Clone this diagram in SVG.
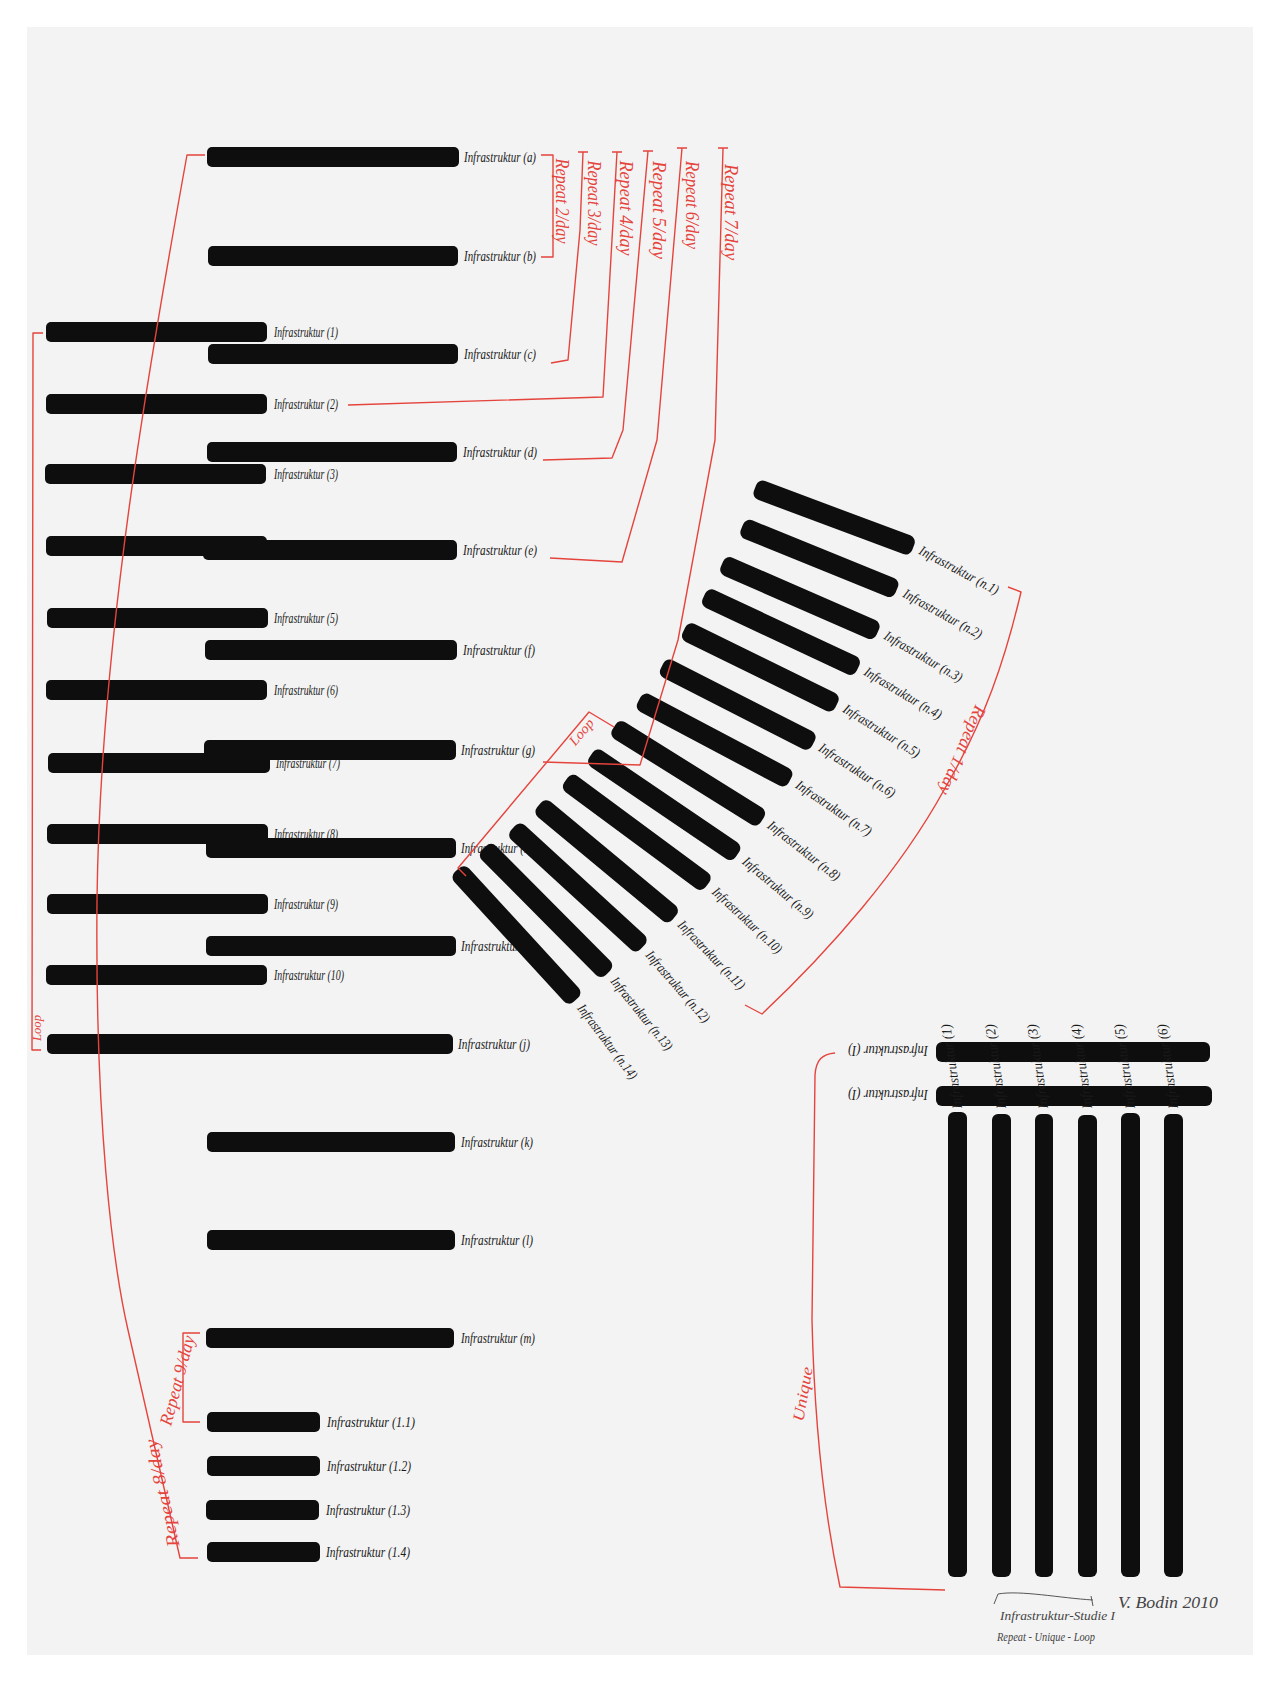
<svg xmlns="http://www.w3.org/2000/svg" width="1280" height="1682" viewBox="0 0 1280 1682">
<style>
.bar{fill:#0e0e0e}
.lb{font-family:"Liberation Serif",serif;font-style:italic;font-size:14px;fill:#1a1a1a}
.rl{fill:none;stroke:#e5443d;stroke-width:1.4;stroke-linejoin:round}
.rt{font-family:"Liberation Serif",serif;font-style:italic;font-size:18px;fill:#e5443d}
.sg{font-family:"Liberation Serif",serif;font-style:italic;font-size:12px;fill:#444}
</style>
<rect x="0" y="0" width="1280" height="1682" fill="#ffffff"/>
<rect x="27" y="27" width="1226" height="1628" fill="#f3f3f3"/>

<g id="colA">
<rect class="bar" x="46" y="322" width="221" height="20" rx="5"/>
<rect class="bar" x="46" y="394" width="221" height="20" rx="5"/>
<rect class="bar" x="45" y="464" width="221" height="20" rx="5"/>
<rect class="bar" x="46" y="536" width="221" height="20" rx="5"/>
<rect class="bar" x="47" y="608" width="221" height="20" rx="5"/>
<rect class="bar" x="46" y="680" width="221" height="20" rx="5"/>
<rect class="bar" x="48" y="753" width="222" height="20" rx="5"/>
<rect class="bar" x="47" y="824" width="221" height="20" rx="5"/>
<rect class="bar" x="47" y="894" width="221" height="20" rx="5"/>
<rect class="bar" x="46" y="965" width="221" height="20" rx="5"/>
<rect class="bar" x="47" y="1034" width="220" height="20" rx="5"/>
</g>
<g id="colA-labels">
<text class="lb" x="274" y="337" textLength="64" lengthAdjust="spacingAndGlyphs">Infrastruktur (1)</text>
<text class="lb" x="274" y="409" textLength="64" lengthAdjust="spacingAndGlyphs">Infrastruktur (2)</text>
<text class="lb" x="274" y="479" textLength="64" lengthAdjust="spacingAndGlyphs">Infrastruktur (3)</text>
<text class="lb" x="274" y="551" textLength="64" lengthAdjust="spacingAndGlyphs">Infrastruktur (4)</text>
<text class="lb" x="274" y="623" textLength="64" lengthAdjust="spacingAndGlyphs">Infrastruktur (5)</text>
<text class="lb" x="274" y="695" textLength="64" lengthAdjust="spacingAndGlyphs">Infrastruktur (6)</text>
<text class="lb" x="276" y="768" textLength="64" lengthAdjust="spacingAndGlyphs">Infrastruktur (7)</text>
<text class="lb" x="274" y="839" textLength="64" lengthAdjust="spacingAndGlyphs">Infrastruktur (8)</text>
<text class="lb" x="274" y="909" textLength="64" lengthAdjust="spacingAndGlyphs">Infrastruktur (9)</text>
<text class="lb" x="274" y="980" textLength="70" lengthAdjust="spacingAndGlyphs">Infrastruktur (10)</text>
<text class="lb" x="270" y="1049" textLength="70" lengthAdjust="spacingAndGlyphs">Infrastruktur (11)</text>
</g>

<g id="colB">
<rect class="bar" x="207" y="147" width="252" height="20" rx="5"/>
<rect class="bar" x="208" y="246" width="250" height="20" rx="5"/>
<rect class="bar" x="208" y="344" width="250" height="20" rx="5"/>
<rect class="bar" x="207" y="442" width="250" height="20" rx="5"/>
<rect class="bar" x="203" y="540" width="254" height="20" rx="5"/>
<rect class="bar" x="205" y="640" width="252" height="20" rx="5"/>
<rect class="bar" x="204" y="740" width="252" height="20" rx="5"/>
<rect class="bar" x="206" y="838" width="250" height="20" rx="5"/>
<rect class="bar" x="206" y="936" width="250" height="20" rx="5"/>
<rect class="bar" x="207" y="1034" width="246" height="20" rx="5"/>
<rect class="bar" x="207" y="1132" width="248" height="20" rx="5"/>
<rect class="bar" x="207" y="1230" width="248" height="20" rx="5"/>
<rect class="bar" x="206" y="1328" width="248" height="20" rx="5"/>
</g>
<g id="colB-labels">
<text class="lb" x="464" y="162" textLength="72" lengthAdjust="spacingAndGlyphs">Infrastruktur (a)</text>
<text class="lb" x="464" y="261" textLength="72" lengthAdjust="spacingAndGlyphs">Infrastruktur (b)</text>
<text class="lb" x="464" y="359" textLength="72" lengthAdjust="spacingAndGlyphs">Infrastruktur (c)</text>
<text class="lb" x="463" y="457" textLength="74" lengthAdjust="spacingAndGlyphs">Infrastruktur (d)</text>
<text class="lb" x="463" y="555" textLength="74" lengthAdjust="spacingAndGlyphs">Infrastruktur (e)</text>
<text class="lb" x="463" y="655" textLength="72" lengthAdjust="spacingAndGlyphs">Infrastruktur (f)</text>
<text class="lb" x="461" y="755" textLength="74" lengthAdjust="spacingAndGlyphs">Infrastruktur (g)</text>
<text class="lb" x="461" y="853" textLength="72" lengthAdjust="spacingAndGlyphs">Infrastruktur (h)</text>
<text class="lb" x="461" y="951" textLength="72" lengthAdjust="spacingAndGlyphs">Infrastruktur (i)</text>
<text class="lb" x="458" y="1049" textLength="72" lengthAdjust="spacingAndGlyphs">Infrastruktur (j)</text>
<text class="lb" x="461" y="1147" textLength="72" lengthAdjust="spacingAndGlyphs">Infrastruktur (k)</text>
<text class="lb" x="461" y="1245" textLength="72" lengthAdjust="spacingAndGlyphs">Infrastruktur (l)</text>
<text class="lb" x="461" y="1343" textLength="74" lengthAdjust="spacingAndGlyphs">Infrastruktur (m)</text>
</g>

<g id="short-bars">
<rect class="bar" x="207" y="1412" width="113" height="20" rx="5"/>
<rect class="bar" x="207" y="1456" width="113" height="20" rx="5"/>
<rect class="bar" x="206" y="1500" width="113" height="20" rx="5"/>
<rect class="bar" x="207" y="1542" width="113" height="20" rx="5"/>
<text class="lb" x="327" y="1427" textLength="88" lengthAdjust="spacingAndGlyphs">Infrastruktur (1.1)</text>
<text class="lb" x="327" y="1471" textLength="84" lengthAdjust="spacingAndGlyphs">Infrastruktur (1.2)</text>
<text class="lb" x="326" y="1515" textLength="84" lengthAdjust="spacingAndGlyphs">Infrastruktur (1.3)</text>
<text class="lb" x="326" y="1557" textLength="84" lengthAdjust="spacingAndGlyphs">Infrastruktur (1.4)</text>
</g>

<g id="fan">
<rect class="bar" x="0" y="-10" width="169" height="20" rx="7" transform="translate(755 488) rotate(20.5)"/>
<rect class="bar" x="0" y="-10" width="167" height="20" rx="7" transform="translate(742 527) rotate(22.1)"/>
<rect class="bar" x="0" y="-10" width="170" height="20" rx="7" transform="translate(722 564) rotate(23.6)"/>
<rect class="bar" x="0" y="-10" width="170" height="20" rx="7" transform="translate(704 596) rotate(25.1)"/>
<rect class="bar" x="0" y="-10" width="170" height="20" rx="7" transform="translate(684 630) rotate(26.1)"/>
<rect class="bar" x="0" y="-10" width="170" height="20" rx="7" transform="translate(662 666) rotate(27)"/>
<rect class="bar" x="0" y="-10" width="171" height="20" rx="7" transform="translate(639 700) rotate(27.9)"/>
<rect class="bar" x="0" y="-10" width="175" height="20" rx="7" transform="translate(614 727) rotate(32)"/>
<rect class="bar" x="0" y="-10" width="177" height="20" rx="7" transform="translate(591 755) rotate(34.2)"/>
<rect class="bar" x="0" y="-10" width="176" height="20" rx="7" transform="translate(566 780) rotate(36.5)"/>
<rect class="bar" x="0" y="-10" width="176" height="20" rx="7" transform="translate(539 805) rotate(39.7)"/>
<rect class="bar" x="0" y="-10" width="176" height="20" rx="7" transform="translate(513 828) rotate(42.5)"/>
<rect class="bar" x="0" y="-10" width="176" height="20" rx="7" transform="translate(484 848) rotate(45.2)"/>
<rect class="bar" x="0" y="-10" width="176" height="20" rx="7" transform="translate(457 870) rotate(47.5)"/>
</g>
<g id="fan-labels">
<text class="lb" x="0" y="4" textLength="88" lengthAdjust="spacingAndGlyphs" transform="translate(920 550) rotate(28)">Infrastruktur (n.1)</text>
<text class="lb" x="0" y="4" textLength="88" lengthAdjust="spacingAndGlyphs" transform="translate(904 593) rotate(29)">Infrastruktur (n.2)</text>
<text class="lb" x="0" y="4" textLength="88" lengthAdjust="spacingAndGlyphs" transform="translate(885 635) rotate(30)">Infrastruktur (n.3)</text>
<text class="lb" x="0" y="4" textLength="88" lengthAdjust="spacingAndGlyphs" transform="translate(865 671) rotate(31)">Infrastruktur (n.4)</text>
<text class="lb" x="0" y="4" textLength="88" lengthAdjust="spacingAndGlyphs" transform="translate(844 708) rotate(32)">Infrastruktur (n.5)</text>
<text class="lb" x="0" y="4" textLength="88" lengthAdjust="spacingAndGlyphs" transform="translate(820 747) rotate(33)">Infrastruktur (n.6)</text>
<text class="lb" x="0" y="4" textLength="88" lengthAdjust="spacingAndGlyphs" transform="translate(797 784) rotate(34)">Infrastruktur (n.7)</text>
<text class="lb" x="0" y="4" textLength="88" lengthAdjust="spacingAndGlyphs" transform="translate(769 824) rotate(38)">Infrastruktur (n.8)</text>
<text class="lb" x="0" y="4" textLength="88" lengthAdjust="spacingAndGlyphs" transform="translate(744 860) rotate(40)">Infrastruktur (n.9)</text>
<text class="lb" x="0" y="4" textLength="90" lengthAdjust="spacingAndGlyphs" transform="translate(714 890) rotate(43)">Infrastruktur (n.10)</text>
<text class="lb" x="0" y="4" textLength="90" lengthAdjust="spacingAndGlyphs" transform="translate(680 923) rotate(46)">Infrastruktur (n.11)</text>
<text class="lb" x="0" y="4" textLength="90" lengthAdjust="spacingAndGlyphs" transform="translate(648 953) rotate(49)">Infrastruktur (n.12)</text>
<text class="lb" x="0" y="4" textLength="90" lengthAdjust="spacingAndGlyphs" transform="translate(613 979) rotate(51)">Infrastruktur (n.13)</text>
<text class="lb" x="0" y="4" textLength="90" lengthAdjust="spacingAndGlyphs" transform="translate(580 1006) rotate(53)">Infrastruktur (n.14)</text>
</g>

<g id="unique-block">
<rect class="bar" x="936" y="1042" width="274" height="20" rx="6"/>
<rect class="bar" x="936" y="1086" width="276" height="20" rx="6"/>
<rect class="bar" x="948" y="1112" width="19" height="465" rx="6"/>
<rect class="bar" x="992" y="1114" width="19" height="463" rx="6"/>
<rect class="bar" x="1035" y="1114" width="18" height="463" rx="6"/>
<rect class="bar" x="1078" y="1115" width="19" height="462" rx="6"/>
<rect class="bar" x="1121" y="1113" width="19" height="464" rx="6"/>
<rect class="bar" x="1164" y="1114" width="19" height="463" rx="6"/>
<text class="lb" x="0" y="0" textLength="80" lengthAdjust="spacingAndGlyphs" transform="translate(928 1046) rotate(180)">Infrastruktur (I)</text>
<text class="lb" x="0" y="0" textLength="80" lengthAdjust="spacingAndGlyphs" transform="translate(928 1090) rotate(180)">Infrastruktur (I)</text>
<text class="lb" x="0" y="0" textLength="85" lengthAdjust="spacingAndGlyphs" transform="translate(962 1108) rotate(-98)">Infrastruktur (1)</text>
<text class="lb" x="0" y="0" textLength="85" lengthAdjust="spacingAndGlyphs" transform="translate(1006 1108) rotate(-98)">Infrastruktur (2)</text>
<text class="lb" x="0" y="0" textLength="85" lengthAdjust="spacingAndGlyphs" transform="translate(1048 1108) rotate(-98)">Infrastruktur (3)</text>
<text class="lb" x="0" y="0" textLength="85" lengthAdjust="spacingAndGlyphs" transform="translate(1092 1108) rotate(-98)">Infrastruktur (4)</text>
<text class="lb" x="0" y="0" textLength="85" lengthAdjust="spacingAndGlyphs" transform="translate(1135 1108) rotate(-98)">Infrastruktur (5)</text>
<text class="lb" x="0" y="0" textLength="85" lengthAdjust="spacingAndGlyphs" transform="translate(1178 1108) rotate(-98)">Infrastruktur (6)</text>
</g>

<g id="connectors">
<path class="rl" d="M205,155 L187,155 C150,360 100,640 97,900 C95,1120 112,1260 128,1330 L180,1558 L198,1558"/>
<path class="rl" d="M200,1333 L183,1333 L183,1422 L200,1422"/>
<path class="rl" d="M43,333 L33,333 L32,1050 L41,1050"/>
<path class="rl" d="M541,155 L553,155 L553,257 L541,257"/>
<path class="rl" d="M578,152 L588,152 M583,152 L580,230 L568,360 L551,363"/>
<path class="rl" d="M612,152 L622,152 M617,152 L603,397 L348,405"/>
<path class="rl" d="M643,151 L653,151 M648,151 L623,430 L612,458 L543,460"/>
<path class="rl" d="M677,148 L687,148 M682,148 L657,440 L622,562 L550,558"/>
<path class="rl" d="M718,148 L728,148 M723,148 L715,440 L678,640 L640,765 L543,762"/>
<path class="rl" d="M614,727 L589,712 L458,868 L466,876"/>
<path class="rl" d="M1008,587 L1021,592 C1005,660 985,720 944,790 C900,870 830,950 762,1014 L745,1005"/>
<path class="rl" d="M835,1053 C822,1054 816,1060 815,1075 L812,1320 C815,1450 830,1540 840,1587 L945,1590"/>
</g>
<g id="red-labels">
<text class="rt" x="0" y="0" text-anchor="middle" textLength="110" lengthAdjust="spacingAndGlyphs" transform="translate(168 1492) rotate(-102)">Repeat 8/day</text>
<text class="rt" x="0" y="0" text-anchor="middle" textLength="92" lengthAdjust="spacingAndGlyphs" transform="translate(183 1382) rotate(-75)">Repeat 9/day</text>
<text class="rt" x="0" y="0" text-anchor="middle" style="font-size:13px" textLength="26" lengthAdjust="spacingAndGlyphs" transform="translate(41 1028) rotate(-90)">Loop</text>
<text class="rt" x="0" y="0" text-anchor="middle" textLength="85" lengthAdjust="spacingAndGlyphs" transform="translate(556 201) rotate(90)">Repeat 2/day</text>
<text class="rt" x="0" y="0" text-anchor="middle" textLength="85" lengthAdjust="spacingAndGlyphs" transform="translate(588 203) rotate(90)">Repeat 3/day</text>
<text class="rt" x="0" y="0" text-anchor="middle" textLength="95" lengthAdjust="spacingAndGlyphs" transform="translate(620 208) rotate(90)">Repeat 4/day</text>
<text class="rt" x="0" y="0" text-anchor="middle" textLength="98" lengthAdjust="spacingAndGlyphs" transform="translate(653 210) rotate(90)">Repeat 5/day</text>
<text class="rt" x="0" y="0" text-anchor="middle" textLength="88" lengthAdjust="spacingAndGlyphs" transform="translate(686 205) rotate(90)">Repeat 6/day</text>
<text class="rt" x="0" y="0" text-anchor="middle" textLength="96" lengthAdjust="spacingAndGlyphs" transform="translate(725 212) rotate(90)">Repeat 7/day</text>
<text class="rt" x="0" y="0" text-anchor="middle" style="font-size:14px" textLength="30" lengthAdjust="spacingAndGlyphs" transform="translate(585 735) rotate(-50)">Loop</text>
<text class="rt" x="0" y="0" text-anchor="middle" textLength="95" lengthAdjust="spacingAndGlyphs" transform="translate(957 748) rotate(113)">Repeat 1/day</text>
<text class="rt" x="0" y="0" text-anchor="middle" style="font-size:16px" textLength="55" lengthAdjust="spacingAndGlyphs" transform="translate(808 1395) rotate(-80)">Unique</text>
</g>

<g id="signature">
<path d="M994,1604 L998,1594 C1020,1590 1060,1598 1093,1600 M1091,1596 L1093,1606" fill="none" stroke="#555" stroke-width="1"/>
<text class="sg" x="1000" y="1620" textLength="115" lengthAdjust="spacingAndGlyphs">Infrastruktur-Studie I</text>
<text class="sg" x="997" y="1641" textLength="98" lengthAdjust="spacingAndGlyphs">Repeat - Unique - Loop</text>
<text class="sg" x="1118" y="1608" style="font-size:16px" textLength="100" lengthAdjust="spacingAndGlyphs">V. Bodin 2010</text>
</g>
</svg>
